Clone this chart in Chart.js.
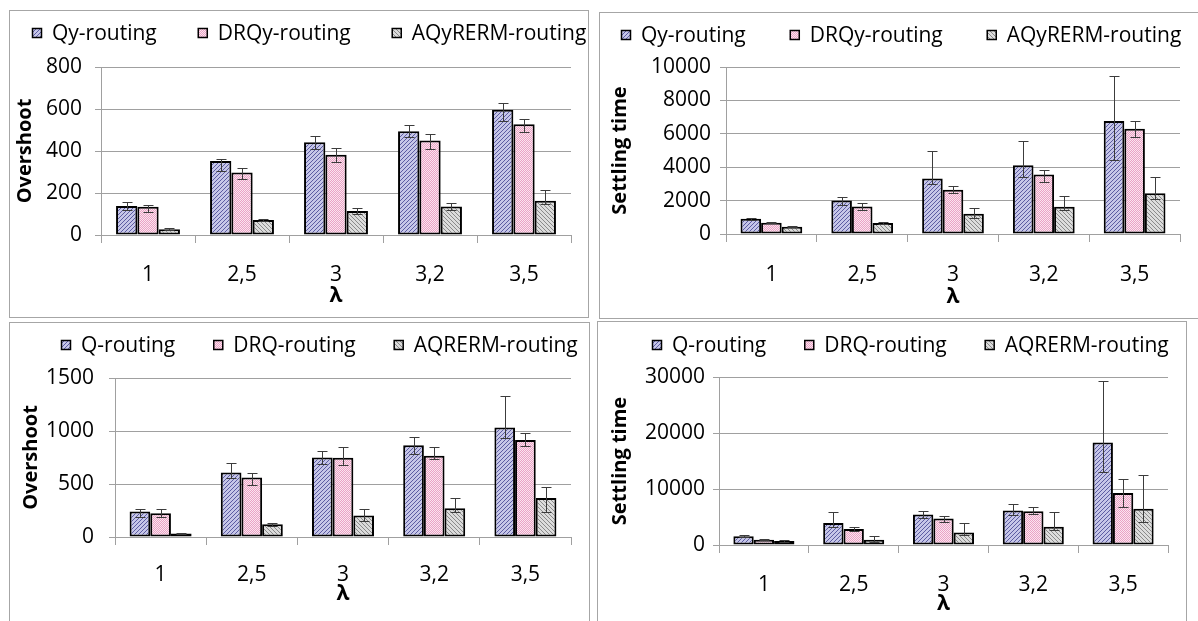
<!DOCTYPE html>
<html><head><meta charset="utf-8">
<script src="https://cdn.jsdelivr.net/npm/chart.js@4.4.1/dist/chart.umd.min.js"></script>
<style>
html,body{margin:0;padding:0;background:#fff;width:1198px;height:621px;overflow:hidden;position:relative;}
.panel{position:absolute;box-sizing:border-box;border:1px solid #a6a6a6;background:#fff;}
.panel canvas{display:block;}
</style></head><body>
<div class="panel" style="left:9px;top:10px;width:580px;height:308px"><canvas id="c1" width="578" height="306"></canvas></div>
<div class="panel" style="left:599px;top:12px;width:610px;height:307px"><canvas id="c2" width="608" height="305"></canvas></div>
<div class="panel" style="left:9px;top:322px;width:581px;height:310px"><canvas id="c3" width="579" height="308"></canvas></div>
<div class="panel" style="left:597px;top:321px;width:590px;height:310px"><canvas id="c4" width="588" height="308"></canvas></div>
<script>
// ---------- data ----------
const categories = ['1', '2,5', '3', '3,2', '3,5'];
const namesY = ['Qy-routing', 'DRQy-routing', 'AQyRERM-routing'];
const namesQ = ['Q-routing', 'DRQ-routing', 'AQRERM-routing'];
const xTitle = 'λ';
const titleOvershoot = 'Overshoot';
const titleSettling = 'Settling time';

// Panel 1: overshoot (Qy family)
const qyOver      = [138, 352, 442, 494, 597];
const qyOverUp    = [20, 11, 31, 31, 31];
const qyOverDown  = [20, 49, 33, 29, 52];
const drqyOver     = [135, 298, 382, 450, 527];
const drqyOverUp   = [9, 19, 31, 31, 24];
const drqyOverDown = [27, 31, 33, 40, 35];
const aqyOver     = [27, 71, 114, 136, 163];
const aqyOverUp   = [4, 6, 14, 15, 50];
const aqyOverDown = [4, 6, 16, 18, 13];

// Panel 2: settling time (Qy family)
const qySet      = [915, 2008, 3320, 4115, 6760];
const qySetUp    = [60, 200, 1650, 1430, 2680];
const qySetDown  = [60, 250, 340, 715, 2330];
const drqySet     = [676, 1650, 2644, 3559, 6302];
const drqySetUp   = [40, 200, 220, 300, 440];
const drqySetDown = [40, 240, 160, 460, 520];
const aqySet     = [437, 656, 1213, 1630, 2445];
const aqySetUp   = [40, 50, 340, 650, 950];
const aqySetDown = [40, 50, 280, 220, 360];

// Panel 3: overshoot (Q family)
const qOver      = [240, 609, 751, 865, 1033];
const qOverUp    = [25, 90, 60, 82, 300];
const qOverDown  = [50, 50, 60, 82, 100];
const drqOver     = [224, 562, 748, 767, 916];
const drqOverUp   = [40, 45, 100, 80, 63];
const drqOverDown = [35, 70, 72, 35, 57];
const aqOver     = [32, 120, 202, 272, 369];
const aqOverUp   = [5, 15, 63, 97, 105];
const aqOverDown = [5, 15, 50, 32, 132];

// Panel 4: settling time (Q family)
const qSet      = [1541, 3913, 5454, 6165, 18317];
const qSetUp    = [200, 1900, 600, 1130, 10900];
const qSetDown  = [200, 700, 650, 890, 5200];
const drqSet     = [948, 2845, 4742, 6047, 9306];
const drqSetUp   = [100, 350, 415, 650, 2550];
const drqSetDown = [100, 350, 590, 475, 2550];
const aqSet     = [711, 948, 2252, 3260, 6461];
const aqSetUp   = [100, 590, 1660, 2550, 6050];
const aqSetDown = [100, 415, 450, 650, 2300];

// ---------- styling helpers ----------
const FONT = "'Open Sans', 'DejaVu Sans', sans-serif";
Chart.defaults.font.family = FONT;
Chart.defaults.color = '#000';

function makePatterns(ctx) {
  function tile(size, bg, draw) {
    const c = document.createElement('canvas');
    c.width = size; c.height = size;
    const t = c.getContext('2d');
    t.fillStyle = bg; t.fillRect(0, 0, size, size);
    draw(t, size);
    return ctx.createPattern(c, 'repeat');
  }
  const blue = tile(4, '#c6c6e8', (t, s) => {
    t.fillStyle = '#5c5ca2';
    for (let r = 0; r < s; r++) t.fillRect(s - 1 - r, r, 1, 1);
  });
  const pink = tile(2, '#fbe5ef', (t) => {
    t.fillStyle = '#eaa2c5';
    t.fillRect(0, 0, 1, 1);
    t.fillRect(1, 1, 1, 1);
  });
  const gray = tile(4, '#dcdcdc', (t, s) => {
    t.fillStyle = '#8a8a8a';
    for (let r = 0; r < s; r++) t.fillRect(r, r, 1, 1);
  });
  return [blue, pink, gray];
}

const errorBarPlugin = {
  id: 'errBars',
  afterDatasetsDraw(chart) {
    const ctx = chart.ctx, ys = chart.scales.y;
    ctx.save();
    ctx.strokeStyle = '#3c3c3c';
    ctx.lineWidth = 1;
    chart.data.datasets.forEach((ds, i) => {
      const meta = chart.getDatasetMeta(i);
      meta.data.forEach((el, j) => {
        const v = ds.data[j];
        const hi = Math.round(ys.getPixelForValue(v + ds.errUp[j])) + 0.5;
        const lo = Math.round(ys.getPixelForValue(v - ds.errDown[j])) + 0.5;
        const x = Math.round(el.x) + 0.5;
        ctx.beginPath();
        ctx.moveTo(x, hi); ctx.lineTo(x, lo);
        ctx.moveTo(x - 5, hi); ctx.lineTo(x + 5, hi);
        ctx.moveTo(x - 5, lo); ctx.lineTo(x + 5, lo);
        ctx.stroke();
      });
    });
    ctx.restore();
  }
};

const legendPlugin = {
  id: 'xlLegend',
  afterDraw(chart, args, opts) {
    const ctx = chart.ctx;
    ctx.save();
    ctx.font = '21px ' + FONT;
    ctx.textBaseline = 'middle';
    ctx.textAlign = 'left';
    let x = opts.x;
    chart.data.datasets.forEach(ds => {
      const by = Math.round(opts.y - 5);
      ctx.fillStyle = ds.backgroundColor;
      ctx.fillRect(x, by, 10, 10);
      ctx.strokeStyle = '#000';
      ctx.lineWidth = 1.5;
      ctx.strokeRect(x + 0.5, by + 0.5, 9, 9);
      ctx.fillStyle = '#000';
      ctx.fillText(ds.label, x + 20, opts.y + 1);
      x = x + 20 + ctx.measureText(ds.label).width + opts.gap;
    });
    ctx.restore();
  }
};

function makeChart(id, g, names, series, yMax, yStep, yTitle) {
  const ctx = document.getElementById(id).getContext('2d');
  const pats = makePatterns(ctx);
  const datasets = series.map((s, i) => ({
    label: names[i],
    data: s[0],
    errUp: s[1],
    errDown: s[2],
    backgroundColor: pats[i],
    borderColor: '#000',
    borderWidth: 2,
    borderSkipped: false,
    categoryPercentage: 0.68,
    barPercentage: 1.0
  }));
  return new Chart(ctx, {
    type: 'bar',
    data: { labels: categories, datasets },
    options: {
      responsive: false,
      animation: false,
      events: [],
      layout: { padding: { left: 0, right: g.padRight, top: g.padTop, bottom: 0 } },
      plugins: {
        legend: { display: false },
        tooltip: { enabled: false },
        xlLegend: { x: g.legendX, y: g.legendY, gap: g.legendGap }
      },
      scales: {
        x: {
          ticks: { color: '#000', font: { size: 21 }, padding: g.tickPadX, maxRotation: 0, autoSkip: false },
          grid: { display: true, drawOnChartArea: false, drawTicks: true, tickLength: 8, color: '#a0a0a0', offset: true },
          border: { display: true, color: '#a0a0a0' },
          title: { display: true, text: xTitle, color: '#000', font: { size: 21, weight: 'bold' }, padding: { top: 0, bottom: g.titlePadX } },
          afterFit: (s) => { s.height = g.xHeight; }
        },
        y: {
          min: 0, max: yMax,
          ticks: { stepSize: yStep, color: '#000', font: { size: 21 }, padding: g.tickPadY, callback: (v) => String(v) },
          grid: { color: '#a0a0a0', lineWidth: 1, tickLength: 6, drawTicks: true },
          border: { display: true, color: '#a0a0a0' },
          title: { display: true, text: yTitle, color: '#000', font: { size: 20, weight: 'bold' }, padding: { top: g.titlePadY, bottom: 0 } },
          afterFit: (s) => { s.width = g.yWidth; }
        }
      }
    },
    plugins: [errorBarPlugin, legendPlugin]
  });
}

makeChart('c1',
  { yWidth: 91, xHeight: 82, padRight: 17, padTop: 56, tickPadX: 19, tickPadY: 13, titlePadX: 8, titlePadY: 3, legendX: 22, legendY: 22, legendGap: 41 },
  namesY,
  [[qyOver, qyOverUp, qyOverDown], [drqyOver, drqyOverUp, drqyOverDown], [aqyOver, aqyOverUp, aqyOverDown]],
  800, 200, titleOvershoot);

makeChart('c2',
  { yWidth: 126, xHeight: 84, padRight: 28, padTop: 54, tickPadX: 20, tickPadY: 9, titlePadX: 8, titlePadY: 8, legendX: 21, legendY: 22, legendGap: 44 },
  namesY,
  [[qySet, qySetUp, qySetDown], [drqySet, drqySetUp, drqySetDown], [aqySet, aqySetUp, aqySetDown]],
  10000, 2000, titleSettling);

makeChart('c3',
  { yWidth: 105, xHeight: 94, padRight: 18, padTop: 55, tickPadX: 17, tickPadY: 15, titlePadX: 24, titlePadY: 9, legendX: 51, legendY: 22, legendGap: 38 },
  namesQ,
  [[qOver, qOverUp, qOverDown], [drqOver, drqOverUp, drqOverDown], [aqOver, aqOverUp, aqOverDown]],
  1500, 500, titleOvershoot);

makeChart('c4',
  { yWidth: 121, xHeight: 85, padRight: 18, padTop: 55, tickPadX: 19, tickPadY: 8, titlePadX: 13, titlePadY: 10, legendX: 54, legendY: 23, legendGap: 38 },
  namesQ,
  [[qSet, qSetUp, qSetDown], [drqSet, drqSetUp, drqSetDown], [aqSet, aqSetUp, aqSetDown]],
  30000, 10000, titleSettling);
</script>
</body></html>
